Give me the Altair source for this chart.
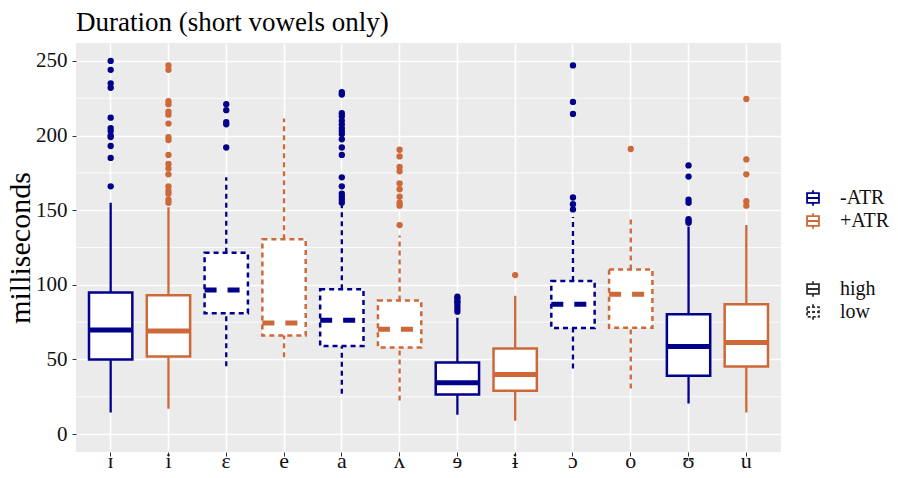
import altair as alt
import pandas as pd

vowels = ["ɪ", "i", "ɛ", "e", "a", "ʌ", "ɘ", "ɨ", "ɔ", "o", "ʊ", "u"]
atr = ["-ATR", "+ATR", "-ATR", "+ATR", "-ATR", "+ATR", "-ATR", "+ATR", "-ATR", "+ATR", "-ATR", "+ATR"]
height = ["high", "high", "low", "low", "low", "low", "high", "high", "low", "low", "high", "high"]
lower = [14.5, 17, 45.5, 51.5, 27, 22.5, 13, 9, 44, 30.5, 20.5, 14.5]
q1 = [50, 52, 81, 66, 59, 58, 26.6, 29, 71, 71.2, 39, 45.2]
median = [69.8, 69, 96.5, 74.5, 76.3, 70.3, 34.4, 40, 87, 93.7, 58.7, 61.4]
q3 = [94.8, 93, 121.5, 130.5, 97, 89.5, 48, 57.4, 102.5, 110.3, 80.3, 87]
upper = [155, 152, 172, 211.5, 153, 133, 78, 92.6, 145.5, 145.5, 139, 140]
outlier_values = [
    [166, 185, 193, 199, 200, 203, 205, 212, 232, 235, 244, 250],
    [155, 157, 161, 163, 166, 174, 178, 181, 187, 197, 199, 208, 214, 216, 221, 223, 244, 247],
    [192, 207.5, 209, 217, 221],
    [],
    [155, 157, 159, 161, 166, 172, 187, 192, 197.5, 201, 203, 205, 207.5, 210, 213, 215, 227.5, 229],
    [140, 153, 155, 159, 164, 168, 176, 179, 186, 190.5],
    [82, 84, 86, 88, 89, 91, 92],
    [106.5],
    [150.5, 154, 158.5, 214.5, 222.5, 247],
    [191],
    [141.5, 142.5, 144, 155, 157, 172.5, 180],
    [153, 156, 174, 184, 224.5],
]
major_ticks = [0, 50, 100, 150, 200, 250]
minor_ticks = [25, 75, 125, 175, 225]

NAVY = "#00008B"
SIENNA = "#CD6839"
KEY_BG = "#F2F2F2"
FONT = "Liberation Serif"

boxes = pd.DataFrame({
    "vowel": vowels, "atr": atr, "height": height,
    "lower": lower, "q1": q1, "median": median, "q3": q3, "upper": upper,
})
boxes["grp"] = boxes["atr"]
boxes["atr_bg"] = boxes["atr"] + " "
boxes["height_bg"] = boxes["height"] + " "
out_rows = []
for v, a, vals in zip(vowels, atr, outlier_values):
    for val in vals:
        out_rows.append({"vowel": v, "grp": a, "value": val})
outliers = pd.DataFrame(out_rows)
minor_df = pd.DataFrame({"v": minor_ticks})

x_scale = alt.Scale(domain=vowels, paddingInner=0.25, paddingOuter=0.225)
y_scale = alt.Scale(domain=[-12, 262], nice=False, zero=False)
# data-driven (sorted) domain: "+ATR" < "-ATR"
mark_color_scale = alt.Scale(range=[SIENNA, NAVY])

glyph = "M0,-0.9V-0.58M0,0.58V0.9M-0.7,-0.58H0.7V0.58H-0.7ZM-0.7,0H0.7"

x_axis = alt.Axis(title=None, labelFont=FONT, labelFontSize=22, labelColor="#111111",
                  labelAngle=0, domain=False, tickColor="#333333", tickSize=4,
                  labelBaseline="alphabetic", labelPadding=11,
                  grid=True, gridColor="white", gridWidth=1.6, bandPosition=0.5)
y_axis = alt.Axis(title="milliseconds", values=major_ticks, titleFont=FONT, titleFontSize=30,
                  titleFontWeight="normal", titleColor="#000000", titlePadding=0,
                  labelFont=FONT, labelFontSize=21, labelColor="#111111",
                  domain=False, tickColor="#333333", tickSize=4, labelPadding=5,
                  grid=True, gridColor="white", gridWidth=1.6)

x_enc = alt.X("vowel:N", scale=x_scale, sort=vowels, axis=x_axis)
color_enc = alt.Color("grp:N", scale=mark_color_scale, legend=None)
dash_cond = alt.condition("datum.height == 'low'", alt.value([5, 4]), alt.value([1, 0]))

legend_common = dict(title=None, orient="none", symbolSize=289, symbolOpacity=1,
                     labelFont=FONT, labelFontSize=20, labelColor="#111111",
                     labelOffset=17, rowPadding=-1)
glyph_common = dict(symbolType=glyph, symbolFillColor="white", symbolStrokeWidth=1.8,
                    zindex=2, **legend_common)
bg_common = dict(symbolFillColor=KEY_BG, symbolStrokeColor=KEY_BG, symbolStrokeWidth=0,
                 labelExpr="' '", labelOpacity=0, zindex=1, **legend_common)
LX, LY1, LY2 = 727, 145, 236

minor = alt.Chart(minor_df).mark_rule(color="white", strokeWidth=0.8).encode(
    y=alt.Y("v:Q", scale=y_scale, axis=y_axis)
)

base = alt.Chart(boxes)
# invisible carriers of the legends (glyphs and their grey key backgrounds)
bg_key1 = base.mark_point(opacity=0).encode(
    y=alt.Y("median:Q", scale=y_scale, axis=y_axis),
    shape=alt.Shape("atr_bg:N", scale=alt.Scale(domain=["-ATR ", "+ATR "], range=["square", "square"]),
                    legend=alt.Legend(legendX=LX, legendY=LY1, **bg_common)))
bg_key2 = base.mark_point(opacity=0).encode(
    y=alt.Y("median:Q", scale=y_scale, axis=y_axis),
    size=alt.Size("height_bg:N", scale=alt.Scale(domain=["high ", "low "], range=[289, 289]),
                  legend=alt.Legend(legendX=LX, legendY=LY2, symbolType="square", **bg_common)))
stroke_key = base.mark_rule(opacity=0).encode(
    y=alt.Y("median:Q", scale=y_scale, axis=y_axis),
    stroke=alt.Stroke("atr:N", scale=alt.Scale(domain=["-ATR", "+ATR"], range=[NAVY, SIENNA]),
                      legend=alt.Legend(legendX=LX, legendY=LY1, **glyph_common)))
dash_key = base.mark_rule(opacity=0, color="#333333").encode(
    y=alt.Y("median:Q", scale=y_scale, axis=y_axis),
    strokeDash=alt.StrokeDash("height:N",
                              scale=alt.Scale(domain=["high", "low"], range=[[1, 0], [3, 2]]),
                              legend=alt.Legend(legendX=LX, legendY=LY2,
                                                symbolStrokeColor="#333333", **glyph_common)))
box = base.mark_bar(filled=False, fill="white", strokeWidth=2.5).encode(
    x=x_enc, y=alt.Y("q1:Q", scale=y_scale, axis=y_axis), y2="q3:Q",
    color=color_enc, strokeDash=dash_cond)
whisk_lo = base.mark_rule(strokeWidth=2.3).encode(
    x=x_enc, y=alt.Y("lower:Q", scale=y_scale, axis=y_axis), y2="q1:Q",
    color=color_enc, strokeDash=dash_cond)
whisk_hi = base.mark_rule(strokeWidth=2.3).encode(
    x=x_enc, y=alt.Y("q3:Q", scale=y_scale, axis=y_axis), y2="upper:Q",
    color=color_enc, strokeDash=dash_cond)
med = base.mark_rule(strokeWidth=5).encode(
    x=alt.X("vowel:N", scale=x_scale, sort=vowels, bandPosition=0, axis=x_axis),
    x2=alt.X2("vowel", bandPosition=1),
    y=alt.Y("median:Q", scale=y_scale, axis=y_axis),
    color=color_enc,
    strokeDash=alt.condition("datum.height == 'low'", alt.value([12, 11]), alt.value([1, 0])))
pts = alt.Chart(outliers).mark_circle(size=40, opacity=1).encode(
    x=x_enc, y=alt.Y("value:Q", scale=y_scale, axis=y_axis),
    fill=alt.Fill("grp:N", scale=mark_color_scale, legend=None))

chart = alt.layer(minor, bg_key1, bg_key2, stroke_key, dash_key,
                  box, whisk_lo, whisk_hi, med, pts).properties(
    width=705, height=409,
    padding={"left": 68, "top": 35, "right": 109, "bottom": 18},
    autosize=alt.AutoSizeParams(type="none"),
    title=alt.TitleParams("Duration (short vowels only)", anchor="start", frame="group",
                          font=FONT, fontSize=27, fontWeight="normal", color="#000000", offset=6),
).configure_view(fill="#EBEBEB", strokeWidth=0)

chart.save("out.html", embed_options={"renderer": "svg", "actions": False})
